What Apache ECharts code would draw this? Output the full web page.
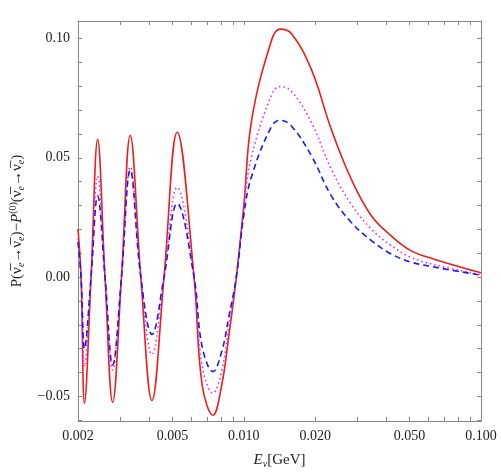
<!DOCTYPE html>
<html><head><meta charset="utf-8">
<script src="https://cdn.jsdelivr.net/npm/echarts@6/dist/echarts.min.js"></script>
<style>html,body{margin:0;padding:0;background:#fff}#c{width:501px;height:474px}</style>
</head><body><div id="c"></div>
<script>
const energies = [0.002,0.00206,0.00213,0.00227,0.00242,0.0026,0.0028,0.00305,0.00332,0.00368,0.0041,0.00461,0.00524,0.00617,0.00667,0.00742,0.00808,0.00862,0.0093,0.01,0.0108,0.0131,0.0142,0.0159,0.0193,0.0234,0.0284,0.0345,0.0418,0.0506,0.0635,0.1];
const redVals =     [0.0201,0,-0.0528,0,0.0576,0,-0.0524,0,0.0593,0,-0.0517,0,0.0607,0,-0.045,-0.0579,-0.045,-0.0257,0,0.0298,0.066,0.0993,0.1039,0.102,0.0868,0.0618,0.041,0.0257,0.0173,0.0111,0.0075,0.0018];
const magentaVals = [0.016,0,-0.0375,0,0.0423,0,-0.0389,0,0.0462,0,-0.0324,0,0.0375,0,-0.037,-0.0486,-0.039,-0.0215,0,0.029,0.0507,0.0764,0.0798,0.0778,0.0646,0.0451,0.0305,0.0201,0.0132,0.0083,0.0052,0.001];
const blueVals =    [0.0147,0,-0.030,0,0.034,0,-0.0368,0,0.0448,0,-0.024,0,0.0308,0,-0.029,-0.0396,-0.031,-0.0174,0,0.026,0.0424,0.0632,0.0657,0.0632,0.0507,0.034,0.0229,0.0153,0.0097,0.0063,0.0042,0.0008];
const xTickLabels = [0.002,0.005,0.010,0.020,0.050,0.100];
const xMinorTicks = [0.003,0.004,0.006,0.007,0.008,0.009,0.03,0.04,0.06,0.07,0.08,0.09];
const yTickLabels = [-0.05,0.00,0.05,0.10];
const yMinorTicks = [-0.06,-0.04,-0.03,-0.02,-0.01,0.01,0.02,0.03,0.04,0.06,0.07,0.08,0.09];

const L = Math.log10;
const pts = v => energies.map((e,i)=>[L(e), v[i]]);
const font = 'Liberation Serif';
const frame = {lineStyle:{color:'#888',width:1}};
const xTicksAll = xTickLabels.concat(xMinorTicks).map(L);
const xAxisBase = {type:'value', min:L(0.002), max:L(0.1), axisLine:{show:true,onZero:false,...frame}, splitLine:{show:false},
  axisTick:{inside:true,length:4,customValues:xTicksAll,lineStyle:{color:'#888'}}};
const yAxisBase = {type:'value', min:-0.0603, max:0.1073, axisLine:{show:true,onZero:false,...frame}, splitLine:{show:false},
  axisTick:{inside:true,length:4,customValues:yTickLabels.concat(yMinorTicks),lineStyle:{color:'#888'}}};
const chart = echarts.init(document.getElementById('c'));
chart.setOption({
  animation:false,
  grid:{left:75,right:20,top:21,bottom:51},
  xAxis:[
    {...xAxisBase, position:'bottom',
     axisLabel:{customValues:xTickLabels.map(L), formatter:v=>Math.pow(10,v).toFixed(3), fontFamily:font, fontSize:14, color:'#222', margin:8},
     name:'{i|E}{s|ν}[GeV]', nameLocation:'middle', nameGap:30,
     nameTextStyle:{rich:{i:{fontFamily:font,fontStyle:'italic',fontSize:15,color:'#222'},s:{fontFamily:font,fontStyle:'italic',fontSize:10,color:'#222',verticalAlign:'bottom',padding:[8,0,0,0]}},fontFamily:font,fontSize:15,color:'#222'}},
    {...xAxisBase, position:'top', axisLabel:{show:false}}
  ],
  yAxis:[
    {...yAxisBase, position:'left',
     axisLabel:{customValues:yTickLabels, formatter:v=>(v<0?'\u2212':'')+Math.abs(v).toFixed(2), fontFamily:font, fontSize:14, color:'#222', margin:8},
     name:'P(ν̅{s|e}→ν̅{s|e})−{i|P}{u|(0)}(ν̅{s|e}→ν̅{s|e})', nameLocation:'middle', nameGap:52,
     nameTextStyle:{fontFamily:font,fontSize:15,color:'#222',rich:{s:{fontFamily:font,fontStyle:'italic',fontSize:10,color:'#222',padding:[8,0,0,0]},i:{fontFamily:font,fontStyle:'italic',fontSize:15,color:'#222'},u:{fontFamily:font,fontSize:10,color:'#222',padding:[0,0,8,0]}}}},
    {...yAxisBase, position:'right', axisLabel:{show:false}}
  ],
  series:[
    {type:'line', data:pts(redVals), smooth:0.4, showSymbol:false, lineStyle:{color:'#ee1c1c',width:1.6}},
    {type:'line', data:pts(magentaVals), smooth:0.4, showSymbol:false, lineStyle:{color:'#ee22ee',width:1.6,type:[1.5,3]}},
    {type:'line', data:pts(blueVals), smooth:0.4, showSymbol:false, lineStyle:{color:'#1a1aee',width:1.6,type:[6,4]}}
  ]
});
</script></body></html>
